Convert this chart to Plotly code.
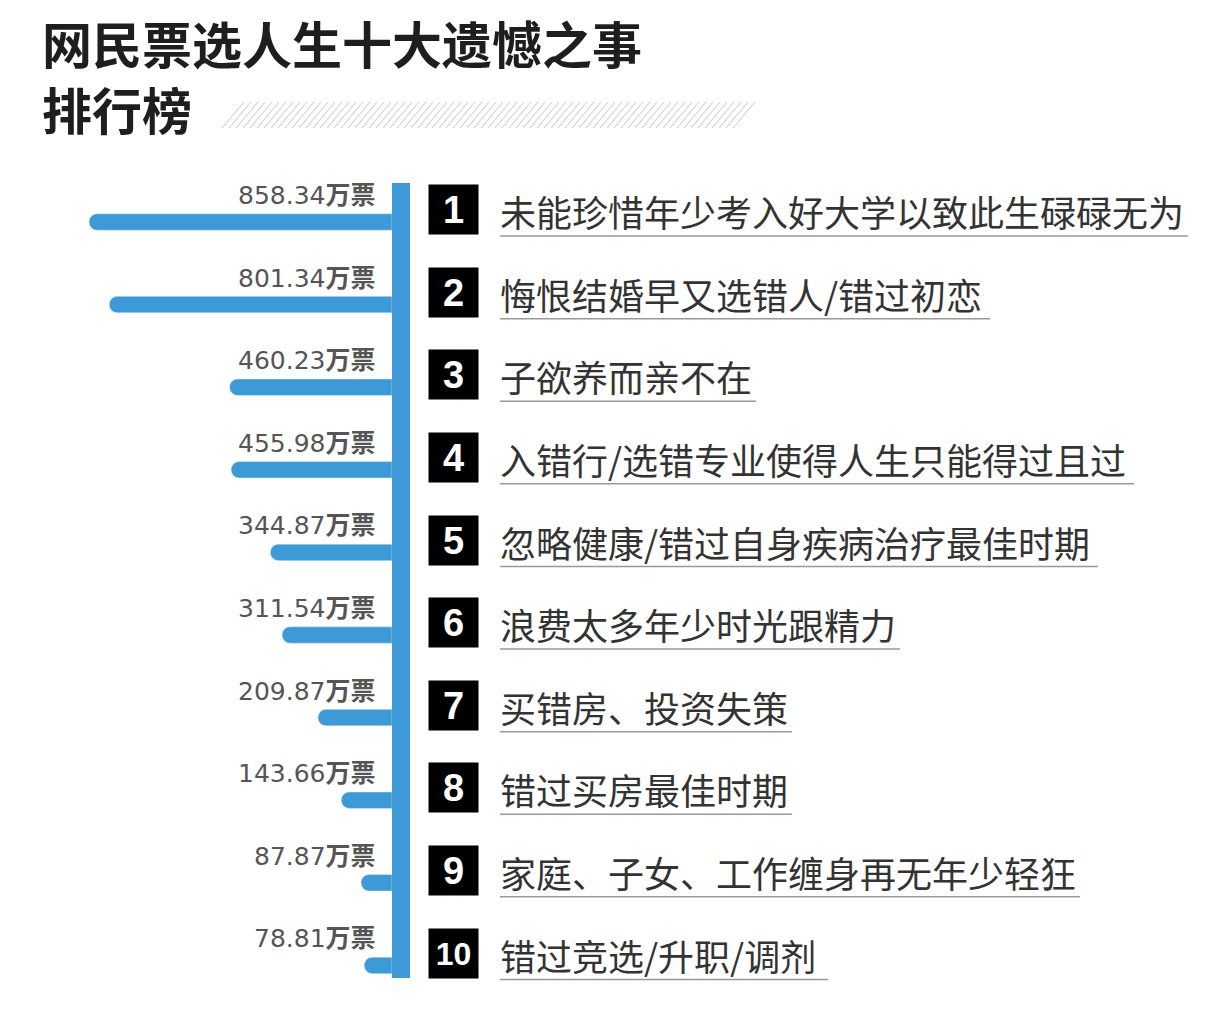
import plotly.graph_objects as go

ranks = list(range(1, 11))
votes = [858.34, 801.34, 460.23, 455.98, 344.87, 311.54, 209.87, 143.66, 87.87, 78.81]
reasons = [
    "未能珍惜年少考入好大学以致此生碌碌无为",
    "悔恨结婚早又选错人/错过初恋",
    "子欲养而亲不在",
    "入错行/选错专业使得人生只能得过且过",
    "忽略健康/错过自身疾病治疗最佳时期",
    "浪费太多年少时光跟精力",
    "买错房、投资失策",
    "错过买房最佳时期",
    "家庭、子女、工作缠身再无年少轻狂",
    "错过竞选/升职/调剂",
]
title1 = "网民票选人生十大遗憾之事"
title2 = "排行榜"

W, H = 1215, 1017
OFF = 8  # page body margin
BLUE = "#3d9ad6"
FONT = "Noto Sans CJK SC"
y0, pitch = 222 - OFF, 82.6


def px(x):
    return (x - OFF) / W


def py_paper(y):
    return 1 - (y - OFF) / H


fig = go.Figure(go.Bar(
    x=votes, y=list(range(10)), orientation="h",
    marker=dict(color=BLUE), width=0.2, hoverinfo="skip",
))


def px_y(py):
    return (py - OFF - y0) / pitch


fig.update_layout(
    width=W, height=H, margin=dict(l=0, r=0, t=0, b=0),
    paper_bgcolor="white", plot_bgcolor="white", showlegend=False,
    barcornerradius=8,
    xaxis=dict(domain=[px(85), px(392)], range=[870, 0], visible=False),
    yaxis=dict(domain=[0, 1], range=[px_y(H + OFF), px_y(OFF)], visible=False),
    font=dict(family=FONT),
)

shapes = []
# vertical spine
shapes.append(dict(type="rect", xref="paper", yref="y", x0=px(392), x1=px(410),
                   y0=px_y(183), y1=px_y(978), fillcolor=BLUE, line_width=0))
# hatch stripe next to title
for k in range(0, 515, 7):
    shapes.append(dict(type="line", xref="paper", yref="paper",
                       x0=px(222 + k), x1=px(222 + k + 22),
                       y0=py_paper(128), y1=py_paper(102),
                       line=dict(color="#c8c8c8", width=1)))


def text_width(s, size):
    return sum(size * 0.5 if ord(c) < 128 else size for c in s)


ann = []
for i, (r, v, t) in enumerate(zip(ranks, votes, reasons)):
    ann.append(dict(xref="paper", yref="y", x=px(378), y=i - 0.32, xanchor="right",
                    text=f"{v:.2f}<b>万票</b>", showarrow=False,
                    font=dict(size=25, color="#555555", family="DejaVu Sans, " + FONT)))
    ann.append(dict(xref="paper", yref="y", x=px(453), y=i - 0.15, xanchor="center",
                    text=f"<b>{r}</b>", showarrow=False, bgcolor="black",
                    width=47, height=47, font=dict(size=38 if r < 10 else 32, color="white",
                                                   family="Liberation Sans")))
    ann.append(dict(xref="paper", yref="y", x=px(498), y=i - 0.13, xanchor="left",
                    text=t, showarrow=False, font=dict(size=36, color="#333333")))
    shapes.append(dict(type="line", xref="paper", yref="y",
                       x0=px(500), x1=px(500 + text_width(t, 36) + 4),
                       y0=i + 0.17, y1=i + 0.17, line=dict(color="#999999", width=1.5)))

ann.append(dict(xref="paper", yref="paper", x=px(40), y=py_paper(42), xanchor="left",
                yanchor="middle", text=f"<b>{title1}</b>", showarrow=False,
                font=dict(size=50, color="#1e1e1e")))
ann.append(dict(xref="paper", yref="paper", x=px(40), y=py_paper(108), xanchor="left",
                yanchor="middle", text=f"<b>{title2}</b>", showarrow=False,
                font=dict(size=50, color="#1e1e1e")))

fig.update_layout(shapes=shapes, annotations=ann)
fig.write_html("out.html")
